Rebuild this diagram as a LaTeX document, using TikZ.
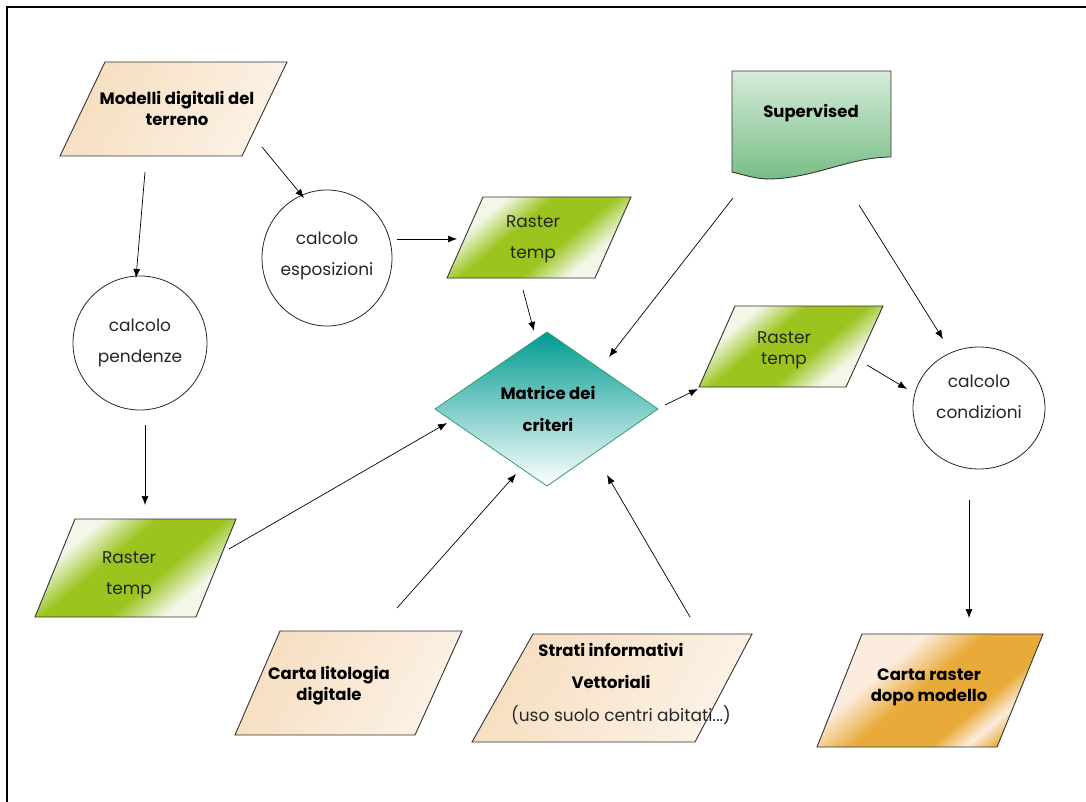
\documentclass[tikz,border=0pt]{standalone}
\usepackage{fontspec}
\setmainfont{Poppins}
\usetikzlibrary{arrows.meta}
\definecolor{beige}{RGB}{246,222,192}
\definecolor{beigel}{RGB}{252,242,230}
\definecolor{rgreen}{RGB}{155,196,30}
\definecolor{rgreenl}{RGB}{242,247,232}
\definecolor{supt}{RGB}{214,235,217}
\definecolor{supb}{RGB}{120,190,134}
\definecolor{teal}{RGB}{0,155,145}
\definecolor{tealb}{RGB}{46,158,120}
\definecolor{orng}{RGB}{232,170,56}
\definecolor{orngl}{RGB}{252,236,222}
\pgfdeclareverticalshading{rastershade}{100bp}{color(0bp)=(rgreenl); color(31bp)=(rgreenl); color(43bp)=(rgreen); color(58bp)=(rgreen); color(70bp)=(rgreenl); color(100bp)=(rgreenl)}
\pgfdeclareverticalshading{orangeshade}{100bp}{color(0bp)=(orng); color(24bp)=(orng); color(30bp)=(orngl); color(37bp)=(orng); color(52bp)=(orng); color(64bp)=(orngl); color(100bp)=(orngl)}
\tikzset{
  shp/.style={draw=black!80, line width=0.9pt},
  beigebox/.style={shp, left color=beige, right color=beigel, shading angle=60},
  greenbox/.style={shp, shading=rastershade, shading angle=40},
  orangebox/.style={shp, shading=orangeshade, shading angle=40},
  circ/.style={draw=black!85, line width=0.8pt, fill=white},
  lbl/.style={font=\fontsize{17}{21}\selectfont, align=center, text=black!85},
  blbl/.style={font=\fontsize{16.5}{21}\selectfont\bfseries, align=center},
  arr/.style={-{Latex[length=9pt,width=7pt]}, line width=0.7pt, black},
}
\begin{document}
\begin{tikzpicture}[x=1pt,y=-1pt]
\useasboundingbox (0,0) rectangle (1086,802);
\draw[line width=1.4pt] (7,802) -- (7,7) -- (1086,7);

% Modelli digitali del terreno
\path[beigebox] (105,62) -- (287,62) -- (242,156) -- (60,156) -- cycle;
\node[blbl] (modelli) at (177,108) {Modelli digitali del\\terreno};

% calcolo pendenze
\draw[circ] (140,343) ellipse [x radius=67, y radius=67];
\node[lbl] (pend) at (140,343) {calcolo\\[10pt]pendenze};

% calcolo esposizioni
\draw[circ] (327,258) ellipse [x radius=65, y radius=68];
\node[lbl] (espo) at (327,256) {calcolo\\[10pt]esposizioni};

% Raster temp top
\path[greenbox] (483,197) -- (631,197) -- (595,278) -- (447,278) -- cycle;
\node[lbl] (r1) at (533,239) {Raster\\[10pt]temp};

% Supervised
\path[shp, top color=supt, bottom color=supb] (732,71) -- (891,71) -- (891,157)
  .. controls (850,157) and (815,178) .. (770,179)
  .. controls (755,179) and (745,175) .. (732,172) -- cycle;
\node[blbl] (sup) at (811,113) {Supervised};

% Matrice dei criteri
\path[draw=tealb, line width=0.8pt, top color=teal, bottom color=white] (547,332) -- (658,409) -- (547,486) -- (435,409) -- cycle;
\node[blbl] (mat) at (548,409) {Matrice dei\\[11pt]criteri};

% Raster temp right
\path[greenbox] (735,306) -- (883,306) -- (846,387) -- (699,387) -- cycle;
\node[lbl] (r2) at (784,350) {Raster\\temp};

% calcolo condizioni
\draw[circ] (979,408) ellipse [x radius=66, y radius=61];
\node[lbl] (cond) at (979,397) {calcolo\\[10pt]condizioni};

% Raster temp bottom-left
\path[greenbox] (75,519) -- (236,519) -- (196,617) -- (35,617) -- cycle;
\node[lbl] (r3) at (129,575) {Raster\\[10pt]temp};

% Carta litologia digitale
\path[beigebox] (280,631) -- (462,631) -- (415,735) -- (235,735) -- cycle;
\node[blbl] (lito) at (329,686) {Carta litologia\\digitale};

% Strati informativi
\path[beigebox] (533,634) -- (752,634) -- (695,742) -- (472,742) -- cycle;
\node[blbl] (strati) at (611,666) {Strati informativi\\[11pt]Vettoriali};
\node[lbl] (uso) at (621,715) {(uso suolo centri abitati...)};

% Carta raster dopo modello
\path[orangebox] (862,634) -- (1043,634) -- (997,747) -- (817,747) -- cycle;
\node[blbl] (carta) at (929,687) {Carta raster\\dopo modello};

% connector end points
\coordinate (a1s) at (145,172); \coordinate (a1e) at (136,278);
\coordinate (a2s) at (262,147); \coordinate (a2e) at (304,198);
\coordinate (a3s) at (397,239); \coordinate (a3e) at (457,239);
\coordinate (a4s) at (523,290); \coordinate (a4e) at (534,331);
\coordinate (a5s) at (733,198); \coordinate (a5e) at (609,357);
\coordinate (a6s) at (859,205); \coordinate (a6e) at (943,339);
\coordinate (a7s) at (145,425); \coordinate (a7e) at (145,505);
\coordinate (a8s) at (229,549); \coordinate (a8e) at (447,423);
\coordinate (a9s) at (397,608); \coordinate (a9e) at (516,474);
\coordinate (a10s) at (690,617); \coordinate (a10e) at (607,475);
\coordinate (a11s) at (665,405); \coordinate (a11e) at (698,389);
\coordinate (a12s) at (867,365); \coordinate (a12e) at (907,389);
\coordinate (a13s) at (969,500); \coordinate (a13e) at (969,618);

\foreach \i in {1,...,13} \draw[arr] (a\i s) -- (a\i e);
\end{tikzpicture}
\end{document}
